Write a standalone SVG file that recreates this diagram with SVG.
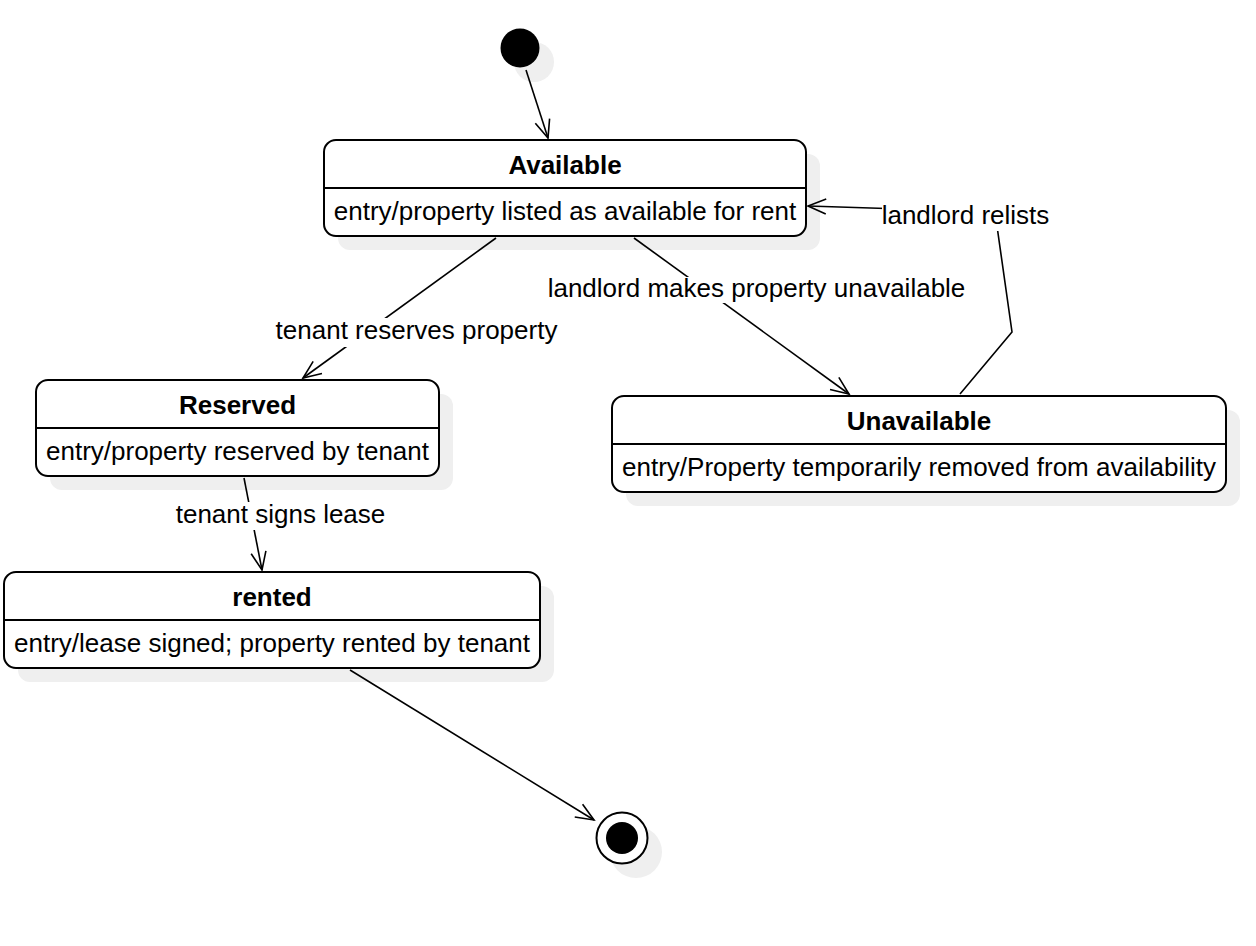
<svg xmlns="http://www.w3.org/2000/svg" width="1256" height="946" viewBox="0 0 1256 946">
<style>
.sh{fill:#efefef;stroke:none}
.box{fill:#ffffff;stroke:#000;stroke-width:2}
.div{stroke:#000;stroke-width:2}
.t{font-family:"Liberation Sans",Arial,sans-serif;font-size:26px;fill:#000;text-anchor:middle}
.b{font-weight:bold}
.edge{fill:none;stroke:#000;stroke-width:1.6}
.lbg{fill:#fff;stroke:none}
</style>
<defs>
<marker id="arr" markerUnits="userSpaceOnUse" markerWidth="24" markerHeight="20" viewBox="-20 -10 24 20" refX="0" refY="0" orient="auto">
<path d="M-18,-7.5 L0,0 L-18,7.5" fill="none" stroke="#000" stroke-width="1.6"/>
</marker>
</defs>
<rect width="1256" height="946" fill="#fff"/>
<g id="shadows">
<circle class="sh" cx="534" cy="62" r="20"/>
<rect class="sh" x="338" y="154" width="482" height="96" rx="12"/>
<rect class="sh" x="50" y="394" width="403" height="96" rx="12"/>
<rect class="sh" x="626" y="410" width="614" height="96" rx="12"/>
<rect class="sh" x="18" y="586" width="536" height="96" rx="12"/>
<circle class="sh" cx="636" cy="852" r="26"/>
</g>
<g id="connectors">
<line class="edge" x1="526" y1="70" x2="548" y2="138" marker-end="url(#arr)"/>
<line class="edge" x1="496" y1="238" x2="303" y2="378" marker-end="url(#arr)"/>
<line class="edge" x1="634" y1="238" x2="849" y2="394" marker-end="url(#arr)"/>
<polyline class="edge" points="960,394 1012,332 995,212 808,206" marker-end="url(#arr)"/>
<line class="edge" x1="244" y1="478" x2="262" y2="570" marker-end="url(#arr)"/>
<line class="edge" x1="350" y1="670" x2="594" y2="820" marker-end="url(#arr)"/>
<rect class="lbg" x="276" y="318" width="282" height="29"/>
<text class="t" x="416.5" y="339">tenant reserves property</text>
<rect class="lbg" x="548" y="277" width="418" height="26"/>
<text class="t" x="756.5" y="297">landlord makes property unavailable</text>
<rect class="lbg" x="882" y="201" width="168" height="30"/>
<text class="t" x="965.5" y="224">landlord relists</text>
<rect class="lbg" x="176" y="502" width="210" height="28"/>
<text class="t" x="280.5" y="523">tenant signs lease</text>
</g>
<g id="initial">
<circle cx="520" cy="48" r="19.5" fill="#000"/>
</g>
<g id="available">
<rect class="box" x="324" y="140" width="482" height="96" rx="12"/>
<line class="div" x1="324" y1="188" x2="806" y2="188"/>
<text class="t b" x="565" y="174">Available</text>
<text class="t" x="565" y="220">entry/property listed as available for rent</text>
</g>
<g id="reserved">
<rect class="box" x="36" y="380" width="403" height="96" rx="12"/>
<line class="div" x1="36" y1="428" x2="439" y2="428"/>
<text class="t b" x="237.5" y="414">Reserved</text>
<text class="t" x="237.5" y="460">entry/property reserved by tenant</text>
</g>
<g id="unavailable">
<rect class="box" x="612" y="396" width="614" height="96" rx="12"/>
<line class="div" x1="612" y1="444" x2="1226" y2="444"/>
<text class="t b" x="919" y="430">Unavailable</text>
<text class="t" x="919" y="476">entry/Property temporarily removed from availability</text>
</g>
<g id="rented">
<rect class="box" x="4" y="572" width="536" height="96" rx="12"/>
<line class="div" x1="4" y1="620" x2="540" y2="620"/>
<text class="t b" x="272" y="606">rented</text>
<text class="t" x="272" y="652">entry/lease signed; property rented by tenant</text>
</g>
<g id="final">
<circle cx="622" cy="838" r="25.5" fill="#fff" stroke="#000" stroke-width="2"/>
<circle cx="622" cy="838" r="16" fill="#000"/>
</g>
</svg>
